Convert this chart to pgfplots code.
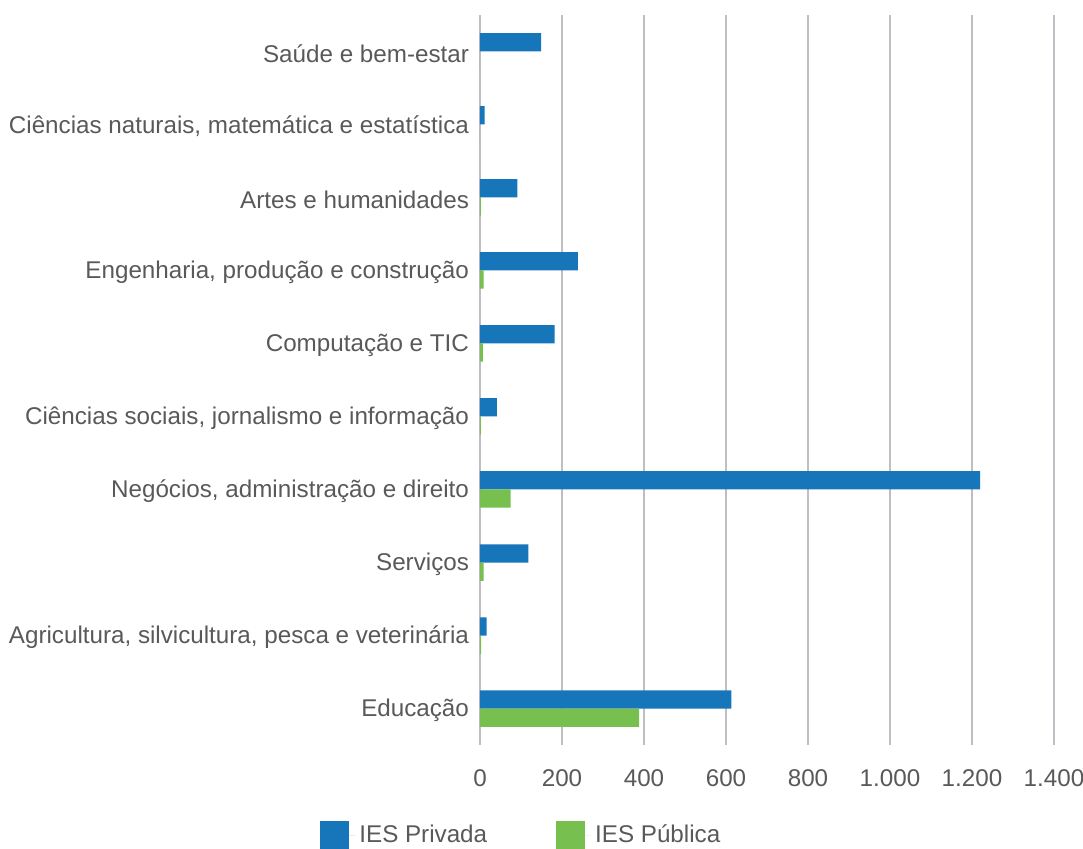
\documentclass[border=0pt]{standalone}
\usepackage{pgfplots}
\pgfplotsset{compat=1.18}
\usepackage{fontspec}
\setmainfont{Liberation Sans}
\definecolor{priv}{RGB}{23,117,186}
\definecolor{pub}{RGB}{119,191,79}
\definecolor{gridc}{RGB}{190,190,196}
\definecolor{txt}{RGB}{89,89,89}
\begin{document}
\begin{tikzpicture}
\useasboundingbox (-240pt,-51.5pt) rectangle (301.5pt,372.5pt);
\begin{axis}[
  at={(0,0)}, anchor=south west,
  scale only axis, width=287pt, height=365pt,
  xmin=0, xmax=1400, ymin=-0.5, ymax=9.5,
  xtick={0,200,...,1400},
  ytick={0,...,9},
  yticklabels={Educação,{Agricultura, silvicultura, pesca e veterinária},Serviços,{Negócios, administração e direito},{Ciências sociais, jornalismo e informação},Computação e TIC,{Engenharia, produção e construção},Artes e humanidades,{Ciências naturais, matemática e estatística},Saúde e bem-estar},
  axis line style={draw=none},
  major tick length=0pt,
  xmajorgrids, grid style={gridc, line width=0.9pt},
  /pgf/number format/1000 sep={.},
  /pgf/number format/assume math mode=true,
  ticklabel style={font=\fontsize{12.1}{14}\selectfont, text=txt},
  xticklabel style={yshift=-9pt},
  yticklabel style={xshift=-2pt, yshift=-1pt},
  legend columns=2,
  legend style={at={(-0.2892,-0.1233)}, anchor=west, draw=none, fill=none,
    font=\fontsize{12.1}{14}\selectfont, text=txt,
    /tikz/every even column/.append style={column sep=32.5pt}},
  legend image code/.code={\fill[#1] (0pt,-7.25pt) rectangle (14.5pt,7.25pt); \path (0pt,0pt) -- (17.5pt,0pt);},
]
\addplot[xbar, bar width=0.25, bar shift=0.125, fill=priv, draw=none] coordinates {
(613,0) (16,1) (118,2) (1220,3) (41,4) (182,5) (239,6) (91,7) (11,8) (149,9)};
\addplot[xbar, bar width=0.25, bar shift=-0.125, fill=pub, draw=none] coordinates {
(388,0) (3,1) (9,2) (75,3) (2,4) (7,5) (9,6) (2,7) (0,8) (0,9)};
\legend{IES Privada, IES Pública}
\end{axis}
\end{tikzpicture}
\end{document}
